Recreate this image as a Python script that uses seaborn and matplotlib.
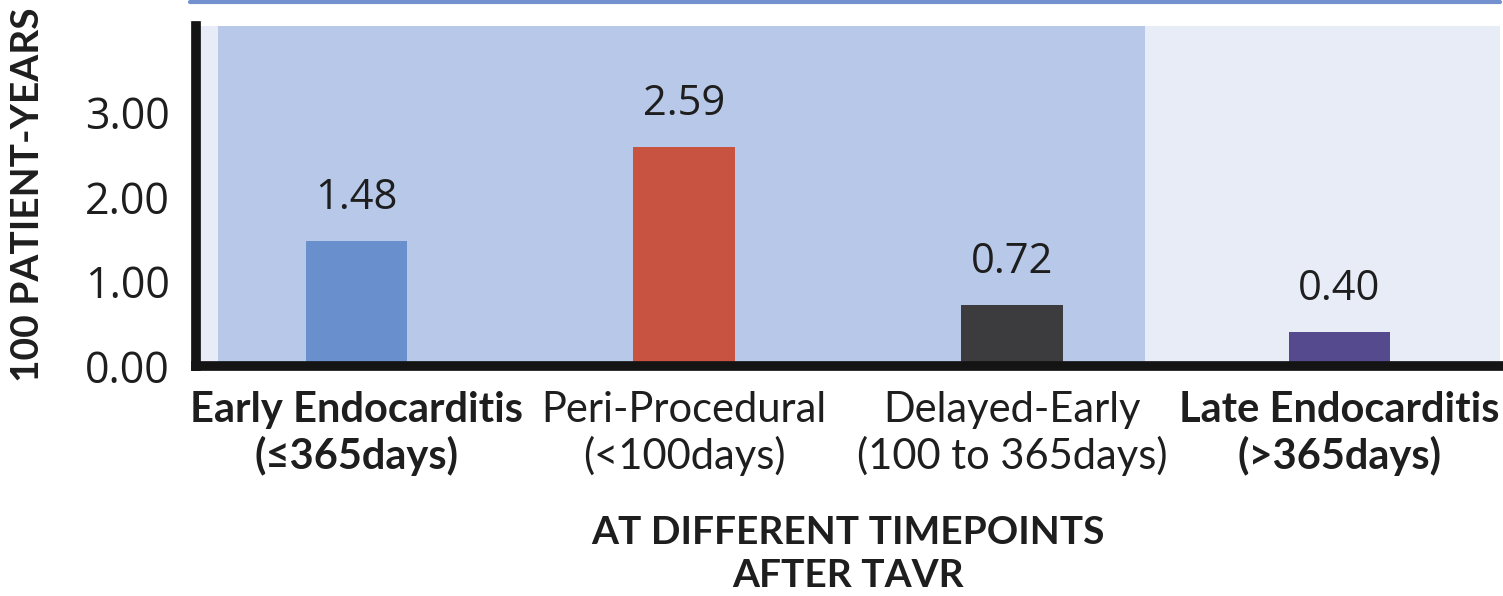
import matplotlib
matplotlib.use("Agg")
import matplotlib.pyplot as plt
import seaborn as sns
import pandas as pd
from matplotlib.lines import Line2D

# Incidence per 100 patient-years by time window after TAVR
periods = [
    "Early Endocarditis\n(≤365days)",
    "Peri-Procedural\n(<100days)",
    "Delayed-Early\n(100 to 365days)",
    "Late Endocarditis\n(>365days)",
]
rates = [1.48, 2.59, 0.72, 0.40]
bar_colors = ["#6a8fcd", "#c75340", "#3c3c3e", "#554a8e"]
bold_period = [True, False, False, True]
y_ticks = [0.0, 1.0, 2.0, 3.0]

sns.set_theme(style="white")
plt.rcParams["font.family"] = ["Lato", "DejaVu Sans"]
num_font = ["Open Sans", "DejaVu Sans"]
ink = "#1e1e1e"

fig = plt.figure(figsize=(15.03, 5.96), dpi=100)
ax = fig.add_axes([196 / 1503, 1 - 366 / 596, (1500 - 196) / 1503, 340 / 596])

# light panel with a darker band covering the early (≤365 days) windows
ax.set_facecolor("#e8ecf6")
ax.axvspan(-0.422, 2.407, color="#b8c8e8", zorder=0, lw=0)

df = pd.DataFrame({"period": periods, "rate": rates})
sns.barplot(
    data=df, x="period", y="rate", hue="period", palette=bar_colors,
    width=0.31, saturation=1, legend=False, ax=ax, zorder=2, linewidth=0,
)

ax.set_xlim(-0.49, 3.49)
ax.set_ylim(0, 4.02)
ax.set_yticks(y_ticks)
ax.set_yticklabels([f"{t:.2f}" for t in y_ticks], fontsize=31,
                   family=num_font, color=ink)
ax.tick_params(axis="y", length=0, pad=19)
ax.tick_params(axis="x", length=0, pad=18)
for lab, bold in zip(ax.get_xticklabels(), bold_period):
    lab.set_fontsize(30)
    lab.set_linespacing(1.2)
    lab.set_color(ink)
    lab.set_fontweight("bold" if bold else "normal")

for i, v in enumerate(rates):
    ax.text(i, v + 0.38, f"{v:.2f}", ha="center", va="baseline", fontsize=30,
            family=num_font, color=ink, zorder=3)

for side in ("top", "right"):
    ax.spines[side].set_visible(False)
for side in ("left", "bottom"):
    ax.spines[side].set_linewidth(7)
    ax.spines[side].set_color("#141414")
    ax.spines[side].set_capstyle("projecting")

ax.set_xlabel("AT DIFFERENT TIMEPOINTS\nAFTER TAVR", fontsize=28,
              fontweight="bold", color=ink, linespacing=1.27)
ax.xaxis.set_label_coords(0.5, -0.438)
ax.set_ylabel("100 PATIENT-YEARS", fontsize=28, fontweight="bold", color=ink)
ax.yaxis.set_label_coords(-0.1156, 0.503)

# rule across the top of the panel
fig.add_artist(Line2D([190 / 1503, 1500 / 1503], [1 - 1.5 / 596, 1 - 1.5 / 596],
                      transform=fig.transFigure, color="#7391cf", lw=3))

fig.savefig("out.png", dpi=100)
